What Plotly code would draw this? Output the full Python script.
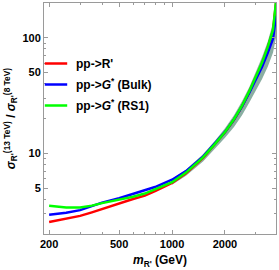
import plotly.graph_objects as go
import math

mass = [200, 250, 300, 350, 400, 500, 600, 700, 800, 1000, 1200, 1500, 1750,
        2000, 2250, 2500, 2750, 3000, 3250, 3500, 3750, 3900]
ratio_rprime = [2.54, 2.70, 2.87, 3.08, 3.30, 3.68, 4.02, 4.30, 4.70, 5.55, 6.7, 9.1, 11.9,
                15.2, 19.5, 25.5, 34.0, 46.0, 60.0, 82.0, 115.0, 200.0]
ratio_bulk = [2.94, 3.05, 3.22, 3.48, 3.74, 4.08, 4.45, 4.75, 5.1, 5.9, 7.0, 9.35, 12.1,
              15.3, 19.6, 25.5, 33.5, 44.0, 56.0, 74.0, 98.0, 155.0]
ratio_rs1 = [3.51, 3.40, 3.40, 3.52, 3.70, 3.95, 4.20, 4.48, 4.85, 5.62, 6.8, 9.2, 12.0,
             15.3, 19.7, 25.8, 34.5, 46.5, 61.0, 83.0, 117.0, 205.0]

band_mass = [1000, 1200, 1500, 1750, 2000, 2250, 2500, 2750, 3000, 3250, 3500, 3750, 3900]
band_lo = [5.35, 6.4, 8.5, 10.9, 13.6, 16.9, 21.3, 27.5, 35.0, 44.0, 56.0, 74.0, 100.0]
band_hi = [6.0, 7.2, 9.8, 12.8, 16.5, 21.3, 28.2, 37.5, 51.0, 68.0, 93.0, 135.0, 250.0]

x_ticks = [200, 500, 1000, 2000]
x_minor = [300, 400, 600, 700, 800, 900, 3000]
y_ticks = [5, 10, 50, 100]
y_minor = [3, 4, 6, 7, 8, 9, 20, 30, 40, 60, 70, 80, 90]

names = ["pp->R'", "pp-><i>G</i><sup>*</sup> (Bulk)", "pp-><i>G</i><sup>*</sup> (RS1)"]
colors = ["rgb(255,0,0)", "rgb(0,0,255)", "rgb(0,255,0)"]
series = [ratio_rprime, ratio_bulk, ratio_rs1]

fig = go.Figure()
fig.add_trace(go.Scatter(x=band_mass, y=band_lo, mode="lines", line=dict(width=0),
                         showlegend=False, hoverinfo="skip"))
fig.add_trace(go.Scatter(x=band_mass, y=band_hi, mode="lines", line=dict(width=0),
                         fill="tonexty", fillcolor="rgba(60,120,100,0.6)",
                         showlegend=False, hoverinfo="skip"))
for s, c in zip(series, colors):
    fig.add_trace(go.Scatter(x=mass, y=s, mode="lines", line=dict(color=c, width=2.5),
                             showlegend=False))
for i, (n, c) in enumerate(zip(names, colors)):
    fig.add_trace(go.Scatter(x=[None], y=[None], mode="markers", name=n,
                             legendgroup=str(i),
                             marker=dict(symbol="line-ew", size=16, color=c,
                                         line=dict(width=2.5, color=c))))

frame = "#9a9a9a"
tickfont = dict(family="Liberation Sans", size=11, color="black", weight="bold")
fig.update_layout(
    width=279, height=270,
    margin=dict(l=44, r=3, t=3, b=36),
    plot_bgcolor="white", paper_bgcolor="white",
    legend=dict(x=(36 - 44) / 232, y=(234 - 49) / 231, xanchor="left", yanchor="top",
                bgcolor="rgba(0,0,0,0)", tracegroupgap=2,
                font=dict(family="Liberation Sans", size=12, color="black", weight="bold")),
    xaxis=dict(type="log", range=[math.log10(187), math.log10(3900)],
               tickvals=x_ticks, ticktext=[str(v) for v in x_ticks],
               ticks="inside", ticklen=4, tickcolor=frame, tickwidth=1,
               showline=True, linecolor=frame, linewidth=1, mirror="allticks",
               showgrid=False, zeroline=False, tickfont=tickfont,
               minor=dict(tickvals=x_minor, ticks="inside", ticklen=2, tickcolor=frame),
               title=dict(text="<i>m</i><sub>R'</sub> (GeV)", standoff=6,
                          font=dict(family="Liberation Sans", size=12, color="black", weight="bold"))),
    yaxis=dict(type="log", range=[math.log10(2), math.log10(200)],
               tickvals=y_ticks, ticktext=[str(v) for v in y_ticks],
               ticks="inside", ticklen=4, tickcolor=frame, tickwidth=1,
               showline=True, linecolor=frame, linewidth=1, mirror="allticks",
               showgrid=False, zeroline=False, tickfont=tickfont,
               minor=dict(tickvals=y_minor, ticks="inside", ticklen=2, tickcolor=frame),
               title=dict(text="<i>σ</i><sub>R'</sub><sup>(13 TeV)</sup> / <i>σ</i><sub>R'</sub><sup>(8 TeV)</sup>",
                          standoff=4,
                          font=dict(family="Liberation Sans", size=12, color="black", weight="bold"))),
)
fig.write_html("out.html", config={"displayModeBar": False},
               post_script="document.body.style.margin='0';document.body.style.padding='0';"
                           "document.body.style.overflow='hidden';")
